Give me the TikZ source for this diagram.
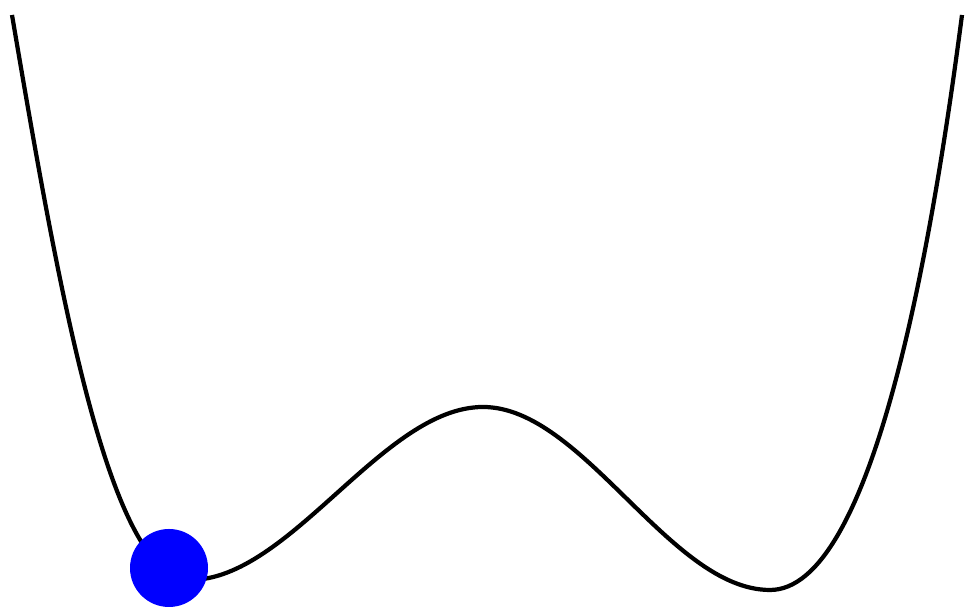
\documentclass[tikz,border=0pt]{standalone}
\usepackage{tikz}

\begin{document}
\begin{tikzpicture}[
    potential/.style={line width=1.2pt, black},
    ball/.style={circle, fill=blue, minimum size=0.78cm, inner sep=0pt}]
    \useasboundingbox (0,0) rectangle (9.69,6.10);
    \coordinate (ltop) at (0.12,5.95);
    \coordinate (lmin) at (1.90,0.30);
    \coordinate (barrier) at (4.83,2.03);
    \coordinate (rmin) at (7.70,0.20);
    \coordinate (rtop) at (9.62,5.95);
    % double well
    \draw[potential] (ltop) .. controls (0.596,3.15) and (1.10,0.30) .. (lmin)
      .. controls (2.90,0.30) and (3.83,2.03) .. (barrier)
      .. controls (5.83,2.03) and (6.70,0.20) .. (rmin)
      .. controls (8.70,0.20) and (9.295,3.45) .. (rtop);
    \node[ball] (ball) at (1.69,0.42) {};
  \end{tikzpicture}
\end{document}
